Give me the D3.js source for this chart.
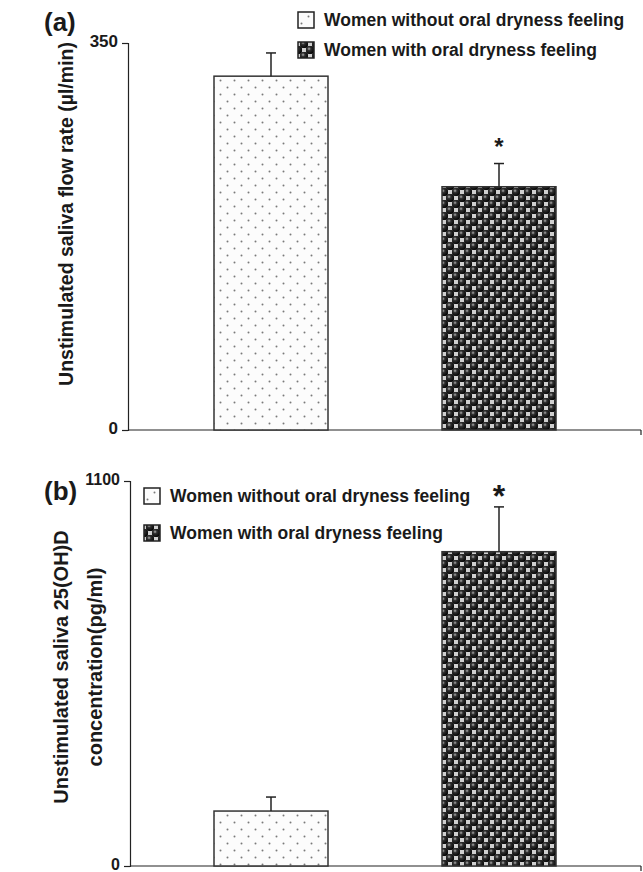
<!DOCTYPE html>
<html>
<head>
<meta charset="utf-8">
<script src="https://cdn.jsdelivr.net/npm/d3@7"></script>
<style>
  body { margin: 0; background: #fff; }
  text { font-family: "Liberation Sans", Arial, sans-serif; font-weight: bold; fill: #1a1a1a; }
</style>
</head>
<body>
<script>
// chart data
var groups = ["Women without oral dryness feeling", "Women with oral dryness feeling"];
var flowMean = [320, 220];
var flowErr = [21, 21];
var flowTicks = [0, 350];
var vitdMean = [157, 898];
var vitdErr = [40, 128];
var vitdTicks = [0, 1100];
var signif = [false, true];

var width = 643, height = 872;

var svg = d3.select("body").append("svg")
    .attr("width", width)
    .attr("height", height);

var defs = svg.append("defs");

// light dotted fill
var dots = defs.append("pattern")
    .attr("id", "dots")
    .attr("patternUnits", "userSpaceOnUse")
    .attr("width", 14).attr("height", 14);
dots.append("rect").attr("width", 14).attr("height", 14).attr("fill", "#fcfcfc");
[[3.5, 3.5], [10.5, 10.5]].forEach(function(p) {
  dots.append("circle").attr("cx", p[0]).attr("cy", p[1]).attr("r", 1).attr("fill", "#7a7a7a");
});

// dark shaded balls fill
var grad = defs.append("radialGradient")
    .attr("id", "ballGrad")
    .attr("cx", "38%").attr("cy", "35%").attr("r", "65%");
grad.append("stop").attr("offset", "0%").attr("stop-color", "#b0b0b0");
grad.append("stop").attr("offset", "35%").attr("stop-color", "#303030");
grad.append("stop").attr("offset", "100%").attr("stop-color", "#050505");

var balls = defs.append("pattern")
    .attr("id", "balls")
    .attr("patternUnits", "userSpaceOnUse")
    .attr("width", 12).attr("height", 12);
balls.append("rect").attr("width", 12).attr("height", 12).attr("fill", "#4a4a4a");
[[6, 0], [0, 6], [12, 6], [6, 12]].forEach(function(p) {
  balls.append("rect").attr("x", p[0] - 2).attr("y", p[1] - 2)
      .attr("width", 4).attr("height", 4).attr("fill", "#cfcfcf");
});
[[0, 0], [12, 0], [0, 12], [12, 12], [6, 6]].forEach(function(p) {
  balls.append("circle").attr("cx", p[0]).attr("cy", p[1]).attr("r", 4).attr("fill", "url(#ballGrad)");
});

var fills = ["url(#dots)", "url(#balls)"];

var x = d3.scaleBand()
    .domain(groups)
    .range([157, 613])
    .paddingInner(0.5)
    .paddingOuter(0.25);

function drawPanel(cfg) {
  var g = svg.append("g");
  var y = d3.scaleLinear().domain(cfg.ticks).range([cfg.bottom, cfg.top]);

  // y axis
  g.append("g")
      .attr("transform", "translate(" + cfg.axisX + ",0)")
      .call(d3.axisLeft(y).tickValues(cfg.ticks).tickFormat(d3.format("d")).tickSize(6).tickPadding(4))
      .call(function(a) {
        a.select(".domain").attr("stroke", "#222").attr("stroke-width", 1.2);
        a.selectAll(".tick line").attr("stroke", "#222").attr("stroke-width", 1.2);
        a.selectAll(".tick text").style("font-size", cfg.tickSize + "px")
            .attr("fill", "#1a1a1a")
            .attr("dy", "0.22em");
      });

  // baseline with end tick
  g.append("line")
      .attr("x1", cfg.axisX).attr("x2", 641)
      .attr("y1", y(0)).attr("y2", y(0))
      .attr("stroke", "#222").attr("stroke-width", 1.2);
  g.append("line")
      .attr("x1", 641).attr("x2", 641)
      .attr("y1", y(0)).attr("y2", y(0) + 5)
      .attr("stroke", "#222").attr("stroke-width", 1.2);

  // bars
  g.selectAll("rect.bar")
      .data(groups)
    .enter().append("rect")
      .attr("class", "bar")
      .attr("x", function(d) { return x(d); })
      .attr("width", x.bandwidth())
      .attr("y", function(d, i) { return y(cfg.mean[i]); })
      .attr("height", function(d, i) { return y(0) - y(cfg.mean[i]); })
      .attr("fill", function(d, i) { return fills[i]; })
      .attr("stroke", "#333")
      .attr("stroke-width", 1.5);

  // error bars
  groups.forEach(function(d, i) {
    var cx = x(d) + x.bandwidth() / 2;
    var top = y(cfg.mean[i] + cfg.err[i]);
    g.append("line")
        .attr("x1", cx).attr("x2", cx)
        .attr("y1", y(cfg.mean[i])).attr("y2", top)
        .attr("stroke", "#222").attr("stroke-width", 1.5);
    g.append("line")
        .attr("x1", cx - 5).attr("x2", cx + 5)
        .attr("y1", top).attr("y2", top)
        .attr("stroke", "#222").attr("stroke-width", 1.5);
    if (signif[i]) {
      g.append("text")
          .attr("x", cx)
          .attr("y", top - cfg.starGap)
          .attr("text-anchor", "middle")
          .style("font-size", cfg.starSize + "px")
          .text("*");
    }
  });

  // panel letter
  g.append("text")
      .attr("x", 44).attr("y", cfg.letterY)
      .style("font-size", "26px")
      .text(cfg.letter);

  // y title
  var tx = g.append("text")
      .attr("transform", "translate(" + cfg.titleX + "," + cfg.titleY + ") rotate(-90)")
      .attr("text-anchor", "middle")
      .style("font-size", cfg.titleSize + "px");
  cfg.title.forEach(function(line, i) {
    tx.append("tspan")
        .attr("x", 0)
        .attr("dy", i === 0 ? 0 : 34)
        .text(line);
  });

  // legend
  var leg = g.selectAll("g.leg")
      .data(groups)
    .enter().append("g")
      .attr("class", "leg")
      .attr("transform", function(d, i) {
        return "translate(" + cfg.legX + "," + (cfg.legY + i * cfg.legStep) + ")";
      });
  leg.append("rect")
      .attr("x", 0).attr("y", -8)
      .attr("width", 16).attr("height", 16)
      .attr("fill", function(d, i) { return fills[i]; })
      .attr("stroke", "#222")
      .attr("stroke-width", 1.5);
  leg.append("text")
      .attr("x", 26).attr("y", 6)
      .style("font-size", "17.5px")
      .text(function(d) { return d; });
}

drawPanel({
  letter: "(a)", letterY: 31,
  ticks: flowTicks, mean: flowMean, err: flowErr,
  top: 43, bottom: 430, axisX: 128, tickSize: 17,
  title: ["Unstimulated saliva flow rate (\u00b5l/min)"], titleX: 73, titleY: 214, titleSize: 19.5,
  legX: 298, legY: 20, legStep: 30,
  starSize: 24, starGap: 9
});

drawPanel({
  letter: "(b)", letterY: 500,
  ticks: vitdTicks, mean: vitdMean, err: vitdErr,
  top: 481, bottom: 866, axisX: 130, tickSize: 16,
  title: ["Unstimulated saliva 25(OH)D", "concentration(pg/ml)"], titleX: 68, titleY: 667, titleSize: 20,
  legX: 144, legY: 496, legStep: 37,
  starSize: 32, starGap: 0
});
</script>
</body>
</html>
